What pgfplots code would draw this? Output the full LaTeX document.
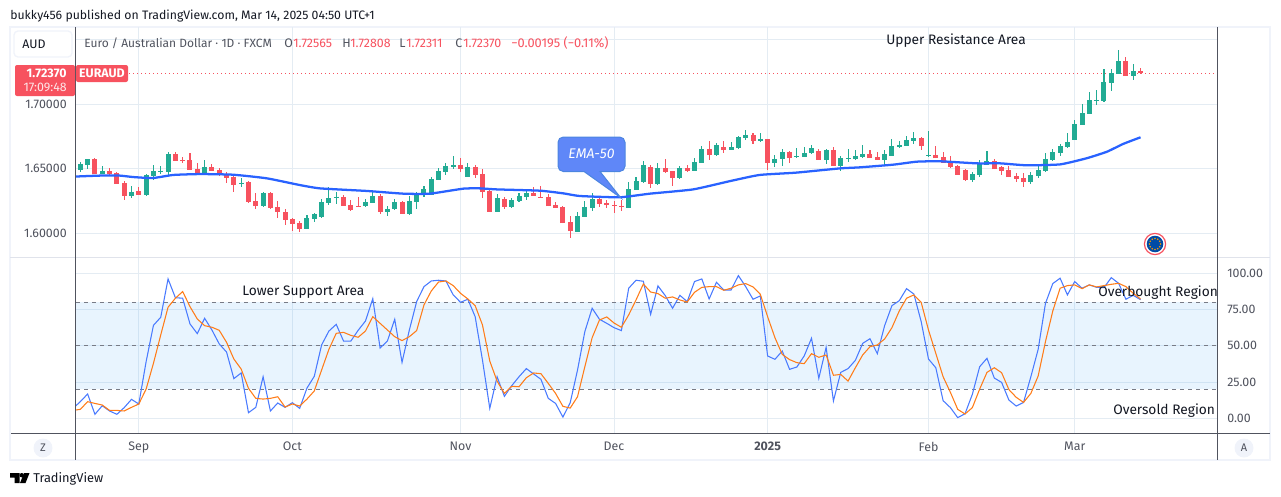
\documentclass[border=0pt]{standalone}
\usepackage{pgfplots}
\usepackage{pgfplotstable}
\usepackage{fontspec}
\setmainfont{Fira Sans}
\pgfplotsset{compat=1.18}
\definecolor{tvgreen}{HTML}{22AB94}
\definecolor{tvred}{HTML}{F7525F}
\definecolor{gridc}{HTML}{E4ECF3}
\definecolor{frame}{HTML}{F0F3FA}
\definecolor{axisc}{HTML}{50535E}
\definecolor{labc}{HTML}{50535E}
\definecolor{sepc}{HTML}{E0E3EB}
\definecolor{emac}{HTML}{2962FF}
\definecolor{kc}{HTML}{2962FF}
\definecolor{dc}{HTML}{FF6D00}
\definecolor{hl}{HTML}{787B86}
\definecolor{band}{HTML}{2196F3}
\definecolor{call}{HTML}{5F87F8}
\definecolor{ink}{HTML}{131722}
\newcommand{\fs}{\fontsize{9.3}{11.5}\selectfont}
\newcommand{\fleg}{\fontsize{9}{11}\selectfont}
\newcommand{\fann}{\fontsize{10.3}{12}\selectfont}

\pgfplotstableread{
i o h l c
1 1.6488 1.6550 1.6475 1.6535
2 1.6530 1.6576 1.6499 1.6571
4 1.6460 1.6519 1.6457 1.6481
8 1.6289 1.6364 1.6274 1.6318
10 1.6295 1.6457 1.6289 1.6450
11 1.6445 1.6527 1.6411 1.6478
12 1.6473 1.6519 1.6460 1.6483
13 1.6475 1.6628 1.6450 1.6612
18 1.6468 1.6563 1.6462 1.6512
23 1.6380 1.6429 1.6356 1.6388
26 1.6209 1.6315 1.6204 1.6310
32 1.6031 1.6137 1.6031 1.6116
33 1.6111 1.6152 1.6088 1.6147
34 1.6127 1.6263 1.6114 1.6240
35 1.6233 1.6354 1.6220 1.6271
36 1.6277 1.6318 1.6227 1.6282
40 1.6209 1.6261 1.6202 1.6240
41 1.6235 1.6320 1.6230 1.6287
43 1.6163 1.6207 1.6132 1.6186
44 1.6189 1.6261 1.6178 1.6240
46 1.6150 1.6287 1.6142 1.6248
47 1.6243 1.6318 1.6189 1.6302
48 1.6302 1.6364 1.6282 1.6341
49 1.6295 1.6431 1.6295 1.6419
50 1.6411 1.6501 1.6411 1.6481
51 1.6473 1.6543 1.6447 1.6519
52 1.6514 1.6597 1.6499 1.6527
54 1.6434 1.6543 1.6434 1.6512
58 1.6163 1.6302 1.6163 1.6271
60 1.6202 1.6271 1.6194 1.6253
61 1.6248 1.6308 1.6240 1.6287
62 1.6279 1.6323 1.6256 1.6310
69 1.6008 1.6163 1.6008 1.6132
70 1.6124 1.6248 1.6124 1.6202
71 1.6194 1.6308 1.6171 1.6264
76 1.6194 1.6395 1.6194 1.6341
77 1.6333 1.6434 1.6333 1.6403
78 1.6395 1.6558 1.6388 1.6527
80 1.6380 1.6543 1.6372 1.6504
83 1.6426 1.6519 1.6419 1.6504
85 1.6481 1.6581 1.6481 1.6550
86 1.6543 1.6674 1.6543 1.6651
88 1.6605 1.6698 1.6597 1.6682
90 1.6643 1.6705 1.6643 1.6667
91 1.6656 1.6752 1.6651 1.6744
92 1.6736 1.6798 1.6721 1.6760
94 1.6713 1.6775 1.6705 1.6729
96 1.6543 1.6605 1.6512 1.6574
97 1.6574 1.6651 1.6519 1.6628
99 1.6589 1.6659 1.6581 1.6597
100 1.6589 1.6667 1.6589 1.6620
101 1.6620 1.6682 1.6612 1.6659
103 1.6566 1.6651 1.6535 1.6643
105 1.6519 1.6597 1.6481 1.6581
106 1.6576 1.6651 1.6550 1.6581
107 1.6574 1.6643 1.6566 1.6597
108 1.6586 1.6682 1.6581 1.6612
111 1.6568 1.6641 1.6525 1.6612
112 1.6597 1.6729 1.6597 1.6672
113 1.6667 1.6713 1.6659 1.6680
114 1.6674 1.6752 1.6674 1.6721
115 1.6713 1.6783 1.6690 1.6736
117 1.6597 1.6791 1.6589 1.6602
123 1.6411 1.6473 1.6395 1.6457
124 1.6450 1.6566 1.6434 1.6535
125 1.6527 1.6636 1.6527 1.6558
131 1.6395 1.6473 1.6380 1.6450
132 1.6442 1.6519 1.6426 1.6488
133 1.6481 1.6620 1.6473 1.6574
134 1.6566 1.6651 1.6558 1.6628
135 1.6620 1.6690 1.6597 1.6674
136 1.6667 1.6775 1.6659 1.6705
137 1.6721 1.6876 1.6721 1.6845
138 1.6837 1.7000 1.6837 1.6930
139 1.6923 1.7093 1.6923 1.7031
140 1.7023 1.7109 1.6992 1.7031
141 1.7023 1.7271 1.7016 1.7171
142 1.7163 1.7271 1.7101 1.7238
143 1.7235 1.7419 1.7235 1.7333
145 1.7217 1.7310 1.7186 1.7256
}\tabgreen

\pgfplotstableread{
i o h l c
3 1.6571 1.6579 1.6460 1.6460
5 1.6481 1.6501 1.6450 1.6455
6 1.6465 1.6470 1.6382 1.6382
7 1.6385 1.6401 1.6258 1.6289
9 1.6323 1.6354 1.6297 1.6297
14 1.6610 1.6625 1.6561 1.6561
15 1.6563 1.6592 1.6543 1.6558
16 1.6566 1.6618 1.6491 1.6491
17 1.6496 1.6540 1.6452 1.6468
19 1.6509 1.6535 1.6483 1.6483
20 1.6488 1.6501 1.6445 1.6447
21 1.6450 1.6473 1.6390 1.6429
22 1.6434 1.6445 1.6318 1.6375
24 1.6395 1.6401 1.6238 1.6243
25 1.6248 1.6308 1.6186 1.6209
27 1.6310 1.6315 1.6191 1.6196
28 1.6202 1.6248 1.6116 1.6163
29 1.6163 1.6183 1.6065 1.6101
30 1.6108 1.6116 1.6018 1.6072
31 1.6077 1.6090 1.6008 1.6031
37 1.6282 1.6292 1.6212 1.6212
38 1.6217 1.6253 1.6178 1.6181
39 1.6212 1.6279 1.6202 1.6207
42 1.6287 1.6302 1.6150 1.6163
45 1.6240 1.6245 1.6150 1.6150
53 1.6527 1.6584 1.6473 1.6496
55 1.6512 1.6525 1.6426 1.6450
56 1.6457 1.6496 1.6271 1.6318
57 1.6326 1.6338 1.6163 1.6163
59 1.6264 1.6277 1.6186 1.6202
63 1.6310 1.6356 1.6287 1.6287
64 1.6279 1.6364 1.6274 1.6274
65 1.6279 1.6302 1.6209 1.6209
66 1.6214 1.6240 1.6194 1.6194
67 1.6202 1.6207 1.6077 1.6077
68 1.6085 1.6132 1.5964 1.6015
72 1.6264 1.6271 1.6202 1.6225
73 1.6230 1.6256 1.6194 1.6217
74 1.6217 1.6248 1.6155 1.6212
75 1.6209 1.6256 1.6171 1.6204
79 1.6512 1.6527 1.6349 1.6380
81 1.6504 1.6574 1.6465 1.6473
82 1.6481 1.6481 1.6364 1.6426
84 1.6504 1.6527 1.6473 1.6481
87 1.6651 1.6713 1.6566 1.6605
89 1.6667 1.6713 1.6620 1.6643
93 1.6760 1.6775 1.6690 1.6713
95 1.6729 1.6729 1.6488 1.6543
98 1.6628 1.6636 1.6543 1.6581
102 1.6636 1.6651 1.6566 1.6566
104 1.6643 1.6667 1.6519 1.6519
109 1.6612 1.6643 1.6581 1.6581
110 1.6589 1.6628 1.6568 1.6568
116 1.6736 1.6744 1.6643 1.6674
118 1.6605 1.6674 1.6581 1.6581
119 1.6589 1.6628 1.6543 1.6543
120 1.6558 1.6597 1.6504 1.6512
121 1.6519 1.6527 1.6450 1.6450
122 1.6488 1.6496 1.6403 1.6411
126 1.6558 1.6574 1.6496 1.6496
127 1.6512 1.6519 1.6450 1.6481
128 1.6488 1.6519 1.6434 1.6434
129 1.6442 1.6465 1.6395 1.6419
130 1.6426 1.6465 1.6356 1.6395
144 1.7333 1.7364 1.7217 1.7217
146 1.72565 1.72808 1.72311 1.72370
}\tabred

\pgfplotstableread{
i v
0 1.6437
3.7 1.6445
6.4 1.6445
8.2 1.6434
10.9 1.6426
13.7 1.6450
17.4 1.6457
21.9 1.6452
26.5 1.6424
31 1.6372
33.8 1.6346
40.2 1.6326
45.2 1.6305
48.8 1.6305
53.4 1.6344
55.7 1.6346
58 1.6338
63.9 1.6328
67.1 1.6307
69.3 1.6287
74.8 1.6277
78.9 1.6305
84.8 1.6338
89.9 1.6403
93.9 1.6450
98.9 1.6468
104.9 1.6501
107.6 1.6509
112.2 1.6530
115.4 1.6553
118.6 1.6556
123.6 1.6540
126.8 1.6540
130.4 1.6525
135 1.6532
138.6 1.6579
141.4 1.6630
143.6 1.6690
146 1.6742
}\tabema

\pgfplotstableread{
i k d
0 6.9 5.5
1 11.5 6.2
2 16.8 11.5
3 2.8 10.3
4 8.7 9.2
5 5.1 5.5
6 2.8 5.5
7 7.4 5.1
8 13.1 7.6
9 9.9 9.9
10 39.1 20.2
11 64.1 37.9
12 69.7 57.5
13 96.1 76.6
14 83.2 82.8
15 82.8 87.4
16 65.1 77.0
17 58.4 68.5
18 69.0 63.9
19 60.9 62.8
20 51.3 60.7
21 45.7 52.4
22 27.4 40.9
23 31.3 34.0
24 3.9 20.7
25 7.6 13.8
26 28.7 13.3
27 5.1 13.8
28 10.6 14.9
29 7.6 7.8
30 10.8 9.9
31 6.9 8.5
32 20.9 13.3
33 29.0 18.9
34 50.6 33.3
35 60.2 47.6
36 64.8 58.6
37 53.3 59.3
38 53.3 57.2
39 60.7 55.9
40 67.1 60.2
41 82.5 70.1
42 48.5 65.5
43 53.3 60.9
44 68.3 56.3
45 38.6 53.6
46 60.9 56.3
47 80.5 60.5
48 90.8 78.2
49 94.7 87.8
50 95.2 94.0
51 94.7 94.7
52 85.1 91.5
53 80.0 86.2
54 82.1 82.3
55 70.1 77.7
56 40.2 64.4
57 6.9 39.5
58 28.7 25.7
59 15.2 17.2
60 22.5 22.1
61 28.7 21.8
62 34.3 28.0
63 30.6 31.3
64 26.9 30.8
65 13.8 24.1
66 10.3 17.2
67 0.9 8.3
68 10.8 7.1
69 33.3 14.9
70 59.8 35.6
71 75.9 55.6
72 68.3 67.8
73 65.5 69.9
74 62.5 65.7
75 60.5 62.8
76 89.7 71.3
77 95.2 81.6
78 94.5 92.6
79 71.7 87.1
80 91.3 86.0
81 84.6 82.8
82 75.9 83.7
83 84.8 81.6
84 80.5 80.2
85 94.3 86.9
86 96.1 90.3
87 82.3 90.8
88 93.8 90.8
89 88.5 88.3
90 88.5 89.7
91 98.4 92.0
92 90.8 92.9
93 82.1 90.6
94 84.4 85.5
95 43.0 70.1
96 40.7 55.6
97 46.4 44.1
98 33.8 40.5
99 35.4 38.4
100 43.0 37.7
101 55.2 44.6
102 27.6 42.1
103 49.0 43.7
104 12.0 29.7
105 31.7 30.3
106 34.3 25.7
107 40.0 34.9
108 51.7 43.7
109 54.9 49.4
110 44.6 50.6
111 63.9 54.7
112 77.7 62.5
113 81.1 74.0
114 89.4 82.8
115 85.7 85.1
116 66.7 80.0
117 40.9 60.9
118 34.9 44.8
119 12.2 28.7
120 7.4 17.9
121 0.5 6.2
122 3.2 3.0
123 16.6 7.4
124 35.6 20.2
125 41.4 31.7
126 27.8 34.9
127 24.8 31.5
128 12.6 19.8
129 8.5 14.5
130 11.0 11.0
131 28.7 17.2
132 47.6 29.2
133 79.3 52.9
134 92.9 74.0
135 96.6 89.7
136 85.1 91.5
137 94.3 92.0
138 89.7 89.4
139 92.0 92.0
140 90.3 90.6
141 90.1 91.5
142 97.0 92.4
143 93.1 93.1
144 82.1 90.8
145 84.8 86.2
146 81.8 82.3
}\tabosc

\begin{document}
\begin{tikzpicture}
\begin{scope}[x=0.75pt,y=-0.75pt]
\path (0,0) rectangle (1281,496);
\draw[frame,line width=1.5pt] (10,26.5) rectangle (1270,460);
\end{scope}

% price pane
\begin{axis}[
  at={(57pt,-192.75pt)},anchor=south west,scale only axis,
  width=855.75pt,height=172.5pt,
  xmin=0.41,xmax=156.46,ymin=1.5814,ymax=1.7597,
  axis line style={draw=none},major tick length=0pt,
  xmajorgrids,ymajorgrids,grid style={color=gridc,line width=0.75pt},
  xtick={9,30,53,74,95,117,137},xticklabel=\empty,
  ytick={1.60,1.65,1.70,1.75},yticklabels={1.60000,1.65000,1.70000,},
  yticklabel style={anchor=east,inner sep=0pt,xshift=-6.75pt,font=\fs,color=labc},
  clip=true,
]
\addplot[tvred,line width=0.75pt,dash pattern=on 0.9pt off 2.1pt,forget plot] coordinates {(7.66,1.7237)(156.46,1.7237)};
\addplot[draw=none,mark=none,forget plot,
  error bars/.cd,y dir=both,y explicit,error mark=none,error bar style={draw=tvgreen,line width=0.8pt,solid}]
  table[x=i,y=c,y error plus expr=\thisrow{h}-\thisrow{c},y error minus expr=\thisrow{c}-\thisrow{l}]{\tabgreen};
\addplot[draw=none,mark=none,forget plot,
  error bars/.cd,y dir=both,y explicit,error mark=none,error bar style={draw=tvred,line width=0.8pt,solid}]
  table[x=i,y=c,y error plus expr=\thisrow{h}-\thisrow{c},y error minus expr=\thisrow{c}-\thisrow{l}]{\tabred};
\addplot[draw=none,mark=none,forget plot,
  error bars/.cd,y dir=minus,y explicit,error mark=none,error bar style={draw=tvgreen,line width=3.75pt,solid}]
  table[x=i,y=c,y error minus expr=\thisrow{c}-\thisrow{o}]{\tabgreen};
\addplot[draw=none,mark=none,forget plot,
  error bars/.cd,y dir=plus,y explicit,error mark=none,error bar style={draw=tvred,line width=3.75pt,solid}]
  table[x=i,y=c,y error plus expr=\thisrow{o}-\thisrow{c}]{\tabred};
\addplot[emac,line width=1.7pt,smooth,tension=0.3,forget plot] table[x=i,y=v]{\tabema};
\end{axis}

% oscillator pane
\begin{axis}[
  at={(57pt,-324.98pt)},anchor=south west,scale only axis,
  width=855.75pt,height=131.5pt,
  xmin=0.41,xmax=156.46,ymin=-10.3,ymax=110.55,
  axis line style={draw=none},major tick length=0pt,
  xmajorgrids,ymajorgrids,grid style={color=gridc,line width=0.75pt},
  xtick={9,30,53,74,95,117,137},
  xticklabels={Sep,Oct,Nov,Dec,\textbf{2025},Feb,Mar},
  xticklabel style={anchor=north,inner sep=0pt,yshift=-6.2pt,font=\fs,color=labc},
  ytick={0,25,50,75,100},yticklabels={0.00,25.00,50.00,75.00,100.00},
  yticklabel pos=right,
  yticklabel style={anchor=west,inner sep=0pt,xshift=7.5pt,font=\fs,color=labc},
  clip=true,
]
\addplot[draw=none,fill=band,fill opacity=0.1,forget plot] coordinates {(0.41,20)(156.46,20)(156.46,80)(0.41,80)} -- cycle;
\addplot[hl,line width=0.75pt,dash pattern=on 3pt off 3pt,forget plot] coordinates {(0.41,80)(156.46,80)};
\addplot[hl,line width=0.75pt,dash pattern=on 3pt off 3pt,forget plot] coordinates {(0.41,50)(156.46,50)};
\addplot[hl,line width=0.75pt,dash pattern=on 3pt off 3pt,forget plot] coordinates {(0.41,20)(156.46,20)};
\addplot[kc!85!white,line width=0.8pt,forget plot] table[x=i,y=k]{\tabosc};
\addplot[dc!90!white,line width=0.8pt,forget plot] table[x=i,y=d]{\tabosc};
\end{axis}

\begin{scope}[x=0.75pt,y=-0.75pt,font=\fs]
% frame lines
\draw[sepc,line width=0.75pt] (10,257.3)--(1270,257.3);
\draw[axisc,line width=0.75pt] (11,433.3)--(1270,433.3);
\draw[axisc,line width=0.75pt] (75.6,27)--(75.6,460);
\draw[axisc,line width=0.75pt] (1217.3,27)--(1217.3,460);
% title
\node[anchor=west,inner sep=0pt,text=ink,font=\fontsize{9.2}{11}\selectfont] at (10,16) {bukky456 published on TradingView.com, Mar 14, 2025 04:50 UTC+1};
% legend
\node[anchor=west,inner sep=0pt,text=labc,font=\fleg] at (84,43) {Euro / Australian Dollar · 1D · FXCM};
\node[anchor=west,inner sep=0pt,text=labc] at (284,43) {O};
\node[anchor=west,inner sep=0pt,text=tvred] at (293,43) {1.72565};
\node[anchor=west,inner sep=0pt,text=labc] at (342,43) {H};
\node[anchor=west,inner sep=0pt,text=tvred] at (350,43) {1.72808};
\node[anchor=west,inner sep=0pt,text=labc] at (399,43) {L};
\node[anchor=west,inner sep=0pt,text=tvred] at (406,43) {1.72311};
\node[anchor=west,inner sep=0pt,text=labc] at (455,43) {C};
\node[anchor=west,inner sep=0pt,text=tvred] at (463,43) {1.72370};
\node[anchor=west,inner sep=0pt,text=tvred,font=\fontsize{9.6}{11}\selectfont] at (511,43) {−0.00195 (−0.11\%)};
% AUD button
\draw[frame,fill=white,line width=1pt,rounded corners=3pt] (14,31) rectangle (72,57);
\node[inner sep=0pt,text=ink] at (34,44.5) {AUD};
% price badges
\fill[tvred,rounded corners=1.5pt] (15,65) rectangle (75,96);
\fill[tvred,rounded corners=1.5pt] (76,65) rectangle (128,82);
\node[anchor=east,inner sep=0pt,text=white] at (67,73.5) {\bfseries 1.72370};
\node[anchor=east,inner sep=0pt,text=white!85!tvred] at (67,87.5) {17:09:48};
\node[inner sep=0pt,text=white] at (102,73.5) {\bfseries EURAUD};
% annotations
\node[anchor=west,inner sep=0pt,text=ink,font=\fann] at (886,40.5) {Upper Resistance Area};
\node[anchor=west,inner sep=0pt,text=ink,font=\fann] at (242,292.5) {Lower Support Area};
\node[anchor=west,inner sep=0pt,text=ink,font=\fann] at (1098,292.5) {Overbought Region};
\node[anchor=west,inner sep=0pt,text=ink,font=\fann] at (1113,410.5) {Oversold Region};
% callout
\draw[draw=call!80!teal,fill=call,line width=0.75pt,rounded corners=4pt]
  (558,137)--(625,137)--(625,171.5)[sharp corners]--(600,171.5)--(620.7,197.7)--(584,171.5)[rounded corners=4pt]--(558,171.5)--cycle;
\node[inner sep=0pt,text=white] at (591.5,154) {\itshape\fontsize{10.5}{12}\selectfont EMA-50};
% EU icon
\draw[tvred,fill=white,line width=0.9pt] (1155,244) circle (10.6);
\fill[blue!55!cyan!65!black] (1155,244) circle (8.3);
\foreach \a in {0,30,...,330} \fill[orange!80!yellow] ({1155+5.5*cos(\a)},{244+5.5*sin(\a)}) circle (0.8);
% Z / A buttons
\fill[frame] (43,448) circle (9.5);
\node[inner sep=0pt,text=labc,font=\fontsize{8.25}{10}\selectfont] at (43,448) {Z};
\fill[frame] (1244,448) circle (9.5);
\node[inner sep=0pt,text=labc,font=\fontsize{8.25}{10}\selectfont] at (1244,448) {A};
% TradingView logo
\fill[black] (10,473)--(19.5,473)--(19.5,483)--(14.5,483)--(14.5,477.5)--(10,477.5)--cycle;
\fill[black] (21.7,475.2) circle (2.2);
\fill[black] (24,473)--(29.5,473)--(25.5,483)--(20,483)--cycle;
\node[anchor=west,inner sep=0pt,text=ink,font=\fontsize{9.6}{12}\selectfont] at (33,479) {TradingView};
\end{scope}
\end{tikzpicture}
\end{document}
